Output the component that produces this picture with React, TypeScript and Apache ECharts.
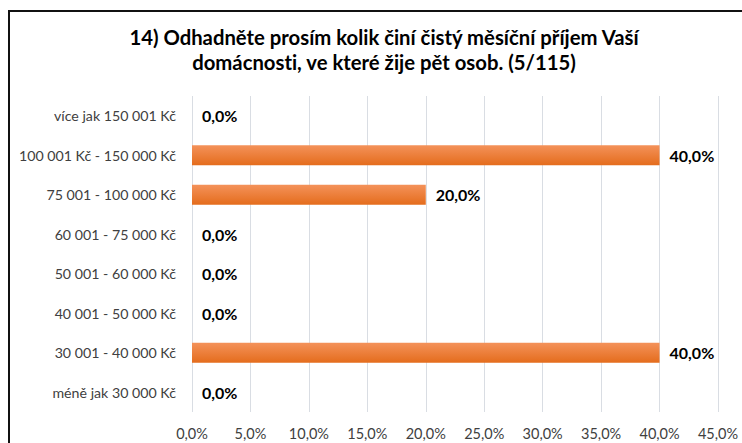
import React, { useEffect, useRef } from "react";
import * as echarts from "echarts";

const categories = [
  "více jak 150 001 Kč",
  "100 001 Kč - 150 000 Kč",
  "75 001 - 100 000 Kč",
  "60 001 - 75 000 Kč",
  "50 001 - 60 000 Kč",
  "40 001 - 50 000 Kč",
  "30 001 - 40 000 Kč",
  "méně jak 30 000 Kč",
];
const values = [0, 40, 20, 0, 0, 0, 40, 0];
const titleText = "14) Odhadněte prosím kolik činí čistý měsíční příjem Vaší\ndomácnosti, ve které žije pět osob. (5/115)";

const fmt = (v: number) => v.toFixed(1).replace(".", ",") + "%";
const FONT = "Lato";

export default function App() {
  const ref = useRef<HTMLDivElement>(null);
  useEffect(() => {
    if (!ref.current) return;
    const chart = echarts.init(ref.current, null, { renderer: "svg" });
    chart.setOption({
      animation: false,
      title: {
        text: titleText,
        left: 379,
        textAlign: "center",
        top: 19,
        textStyle: {
          fontFamily: FONT,
          fontWeight: "bold",
          fontSize: 20.3,
          color: "#000",
          lineHeight: 25,
        },
      },
      grid: { left: 192, right: 24, top: 96, bottom: 31, containLabel: false },
      xAxis: {
        type: "value",
        min: 0,
        max: 45,
        interval: 5,
        axisLine: { show: false },
        axisTick: { show: false },
        splitLine: { show: true, lineStyle: { color: "#d9dde3", width: 1 } },
        axisLabel: {
          formatter: (v: number) => fmt(v),
          color: "#404040",
          fontFamily: FONT,
          fontSize: 14.5,
          margin: 14,
        },
      },
      yAxis: {
        type: "category",
        data: categories,
        inverse: true,
        axisLine: { show: false },
        axisTick: { show: false },
        axisLabel: {
          color: "#404040",
          fontFamily: FONT,
          fontSize: 14.2,
          margin: 16,
        },
      },
      series: [
        {
          type: "bar",
          data: values,
          barWidth: "51%",
          itemStyle: {
            color: new echarts.graphic.LinearGradient(0, 0, 0, 1, [
              { offset: 0, color: "#f4925a" },
              { offset: 1, color: "#e46c1c" },
            ]),
          },
          label: {
            show: true,
            position: "right",
            distance: 10,
            formatter: (p: any) => fmt(p.value),
            color: "#000",
            fontWeight: "bold",
            fontFamily: FONT,
            fontSize: 16,
          },
        },
      ],
    });
    return () => chart.dispose();
  }, []);
  return (
    <div
      style={{
        position: "absolute",
        left: 0,
        top: 0,
        width: 742,
        height: 443,
        overflow: "hidden",
        background: "#fff",
        fontVariantLigatures: "none",
      }}
    >
      <div
        style={{
          position: "absolute",
          left: 8,
          top: 10,
          width: 800,
          height: 500,
          border: "2px solid #111",
          boxSizing: "border-box",
        }}
      />
      <div ref={ref} style={{ position: "absolute", left: 0, top: 0, width: 742, height: 443 }} />
    </div>
  );
}
